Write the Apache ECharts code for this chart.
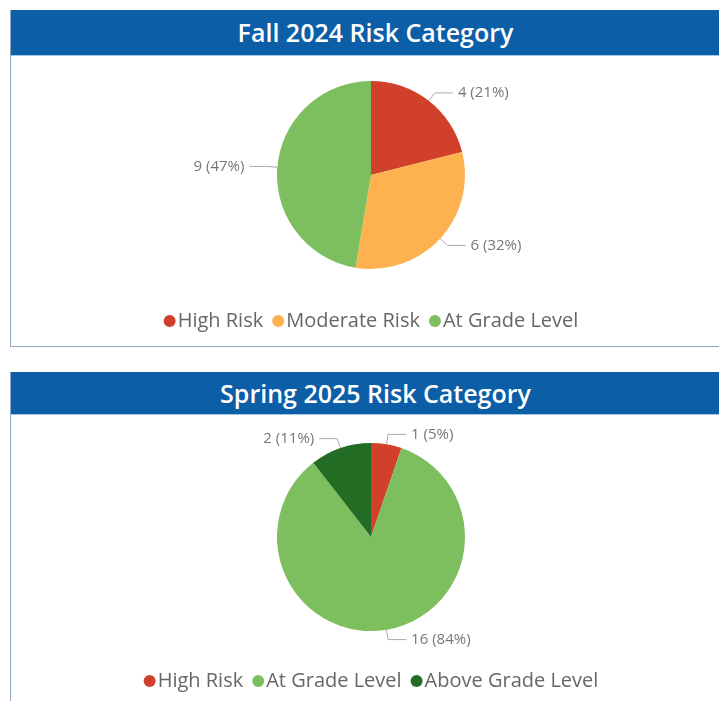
<!DOCTYPE html>
<html>
<head>
<meta charset="utf-8">
<script src="https://cdn.jsdelivr.net/npm/echarts@6/dist/echarts.min.js"></script>
<style>
  html, body { margin: 0; padding: 0; background: #fff; overflow: hidden; width: 719px; height: 701px; }
  .panel { position: absolute; left: 10px; width: 730px; border-left: 1px solid #8fa8bf; border-bottom: 1px solid #8fa8bf; box-sizing: border-box; }
  .panel-header {
    background: #0c5ea6; color: #fff; text-align: center;
    font-family: 'Open Sans', sans-serif; font-weight: 600; font-size: 25px;
    border-bottom: 1px solid #9fc6e6; box-sizing: border-box;
  }
  .chart { width: 720px; }
</style>
</head>
<body>
<div class="panel" style="top:10px">
  <div class="panel-header" style="height:46px;line-height:45px">Fall 2024 Risk Category</div>
  <div id="fallChart" class="chart" style="height:290px"></div>
</div>
<div class="panel" style="top:372px;height:340px">
  <div class="panel-header" style="height:43px;line-height:42px">Spring 2025 Risk Category</div>
  <div id="springChart" class="chart" style="height:286px"></div>
</div>
<script>
// Fall 2024
const fallNames = ['High Risk', 'Moderate Risk', 'At Grade Level']
const fallValues = [4, 6, 9]
const fallColors = ['#d0402a', '#fdb14f', '#7dbf5f']

// Spring 2025
const springNames = ['High Risk', 'At Grade Level', 'Above Grade Level']
const springValues = [1, 16, 2]
const springColors = ['#d0402a', '#7dbf5f', '#236c24']

function pieOption(names, values, colors, centerY, legendTop) {
  return {
    color: colors,
    legend: {
      top: legendTop,
      left: 'center',
      icon: 'circle',
      itemWidth: 12,
      itemHeight: 12,
      itemGap: 9,
      textStyle: { fontFamily: 'Open Sans', fontSize: 20, color: '#666', padding: [0, 0, 0, -3] },
      data: names
    },
    series: [{
      type: 'pie',
      radius: 94,
      center: ['50%', centerY],
      startAngle: 90,
      clockwise: true,
      animation: false,
      silent: true,
      label: {
        show: true,
        position: 'outside',
        fontFamily: 'Open Sans',
        fontSize: 15,
        color: '#777',
        formatter: (p) => p.value + ' (' + Math.round(p.percent) + '%)'
      },
      labelLine: {
        show: true,
        length: 10,
        length2: 18,
        lineStyle: { color: '#aaa', width: 1 }
      },
      data: names.map((n, i) => ({ name: n, value: values[i] }))
    }]
  }
}

const fallChart = echarts.init(document.getElementById('fallChart'))
fallChart.setOption(pieOption(fallNames, fallValues, fallColors, 119, 250))

const springChart = echarts.init(document.getElementById('springChart'))
springChart.setOption(pieOption(springNames, springValues, springColors, 122, 251))
</script>
</body>
</html>
